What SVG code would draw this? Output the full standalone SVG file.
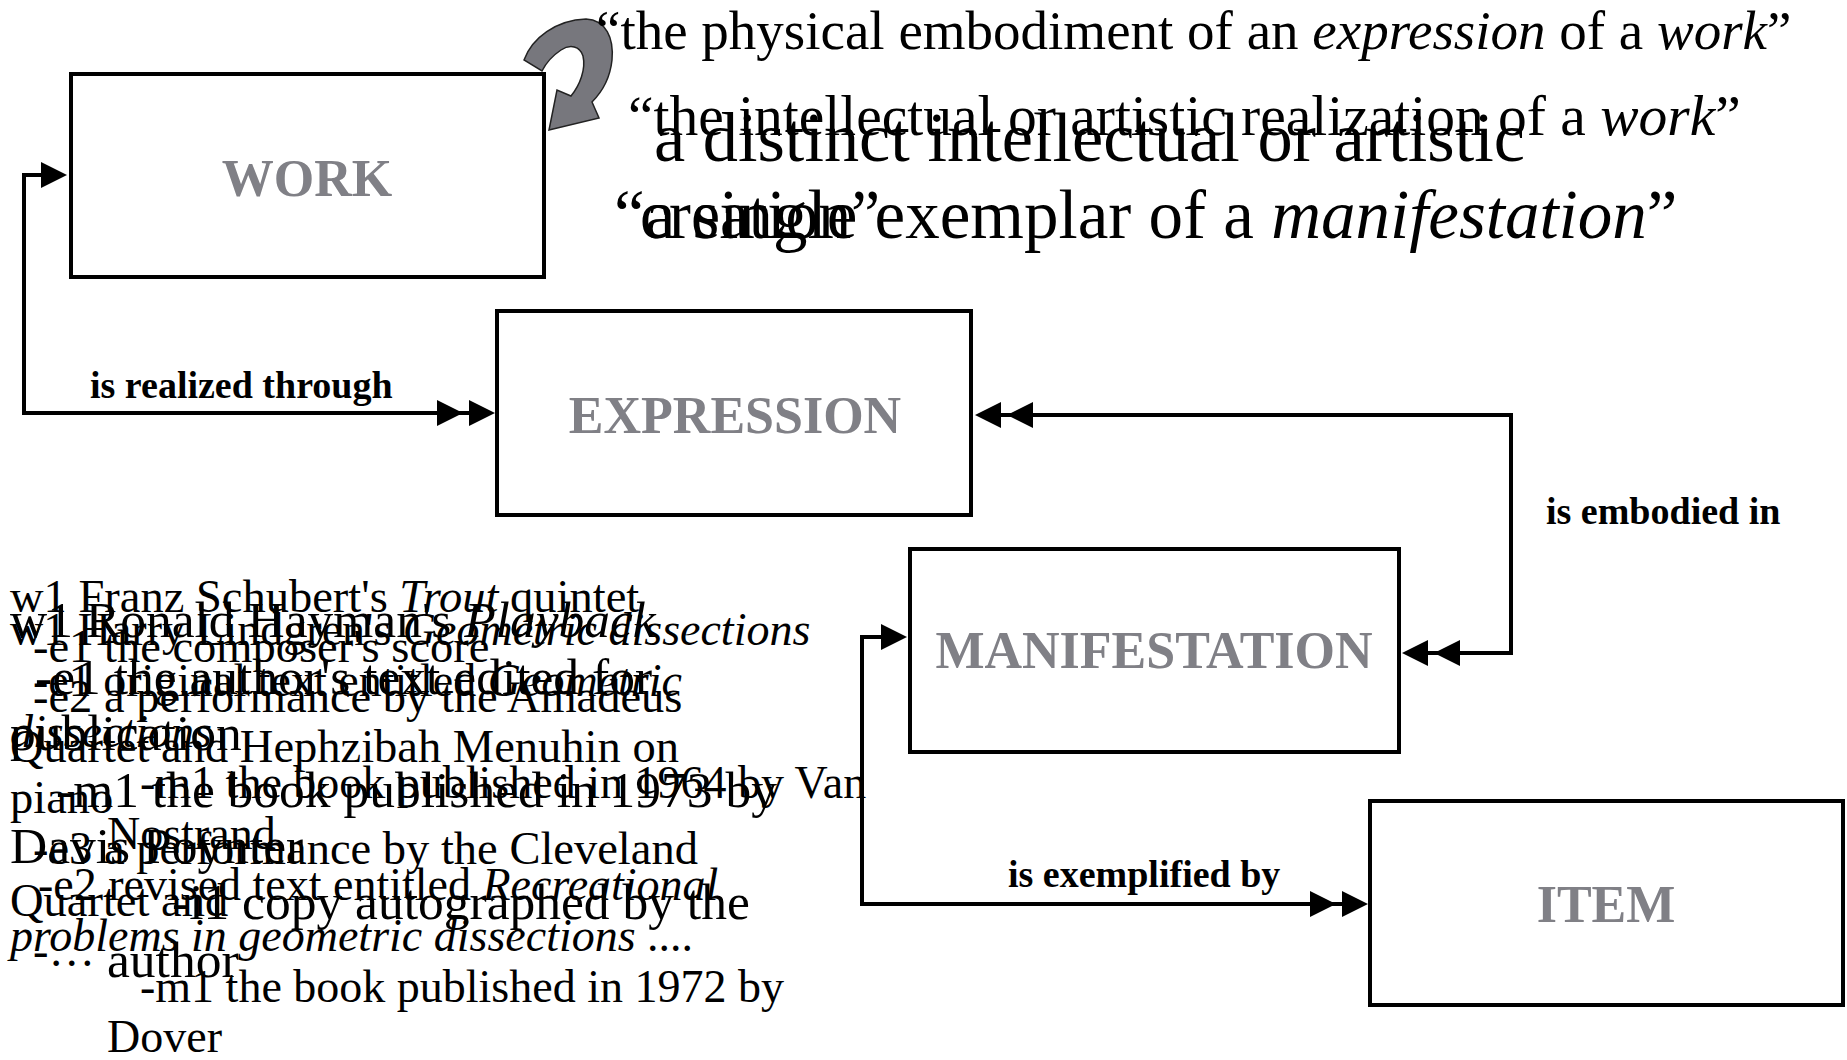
<svg xmlns="http://www.w3.org/2000/svg" width="1847" height="1060" viewBox="0 0 1847 1060">
<style>
.box{fill:#fff;stroke:#000;stroke-width:4}
.lbl{font-family:"Liberation Serif","Times New Roman",serif;font-weight:bold;font-size:52px;fill:#808086;text-anchor:middle}
.conn{fill:none;stroke:#000;stroke-width:4}
.rel{font-family:"Liberation Serif","Times New Roman",serif;font-weight:bold;font-size:38px;fill:#000}
.t{font-family:"Liberation Serif","Times New Roman",serif;fill:#000}
.i{font-style:italic}
</style>
<defs>
<marker id="a1" viewBox="0 0 26 26" refX="20" refY="13" markerWidth="26" markerHeight="26" markerUnits="userSpaceOnUse" orient="auto-start-reverse"><path d="M0,0 L26,13 L0,26 Z" fill="#000"/></marker>
<marker id="a2" viewBox="0 0 58 26" refX="52" refY="13" markerWidth="58" markerHeight="26" markerUnits="userSpaceOnUse" orient="auto-start-reverse"><path d="M32,0 L58,13 L32,26 Z M0,0 L26,13 L0,26 Z" fill="#000"/></marker>
</defs>
<rect width="1847" height="1060" fill="#fff"/>

<g id="node-work">
<rect class="box" x="71" y="74" width="473" height="203"/>
<text class="lbl" x="307" y="196">WORK</text>
</g>
<g id="node-expression">
<rect class="box" x="497" y="311" width="474" height="204"/>
<text class="lbl" x="735" y="433">EXPRESSION</text>
</g>
<g id="node-manifestation">
<rect class="box" x="910" y="549" width="489" height="203"/>
<text class="lbl" x="1154" y="668">MANIFESTATION</text>
</g>
<g id="node-item">
<rect class="box" x="1370" y="801" width="473" height="204"/>
<text class="lbl" x="1606" y="922">ITEM</text>
</g>

<g id="connectors">
<path class="conn" d="M489,413 H24 V175 H61" marker-start="url(#a2)" marker-end="url(#a1)"/>
<text class="rel" x="90" y="398">is realized through</text>
<path class="conn" d="M981,415 H1511 V653 H1408" marker-start="url(#a2)" marker-end="url(#a2)"/>
<text class="rel" x="1546" y="524">is embodied in</text>
<path class="conn" d="M1362,904 H862 V637 H901" marker-start="url(#a2)" marker-end="url(#a1)"/>
<text class="rel" x="1008" y="887">is exemplified by</text>
<path d="M524,60 C532,38 556,20 586,19 C606,20 614,38 612,60 C610,79 602,92 592,102 L599,118 L549,130 L557,90 L571,96 C580,85 586,69 583,56 C580,46 570,44 561,50 C552,56 546,63 542,71 Z" fill="#77777d" stroke="#222" stroke-width="1.5"/>
</g>

<g id="definitions" class="t">
<text x="596" y="49" font-size="55">“the physical embodiment of an <tspan class="i">expression</tspan> of a <tspan class="i">work</tspan>”</text>
<text x="628" y="135" font-size="57.5">“the intellectual or artistic realization of a <tspan class="i">work</tspan>”</text>
<text x="654" y="161" font-size="70" textLength="871" lengthAdjust="spacingAndGlyphs">a distinct intellectual or artistic</text>
<text x="640" y="238" font-size="70" textLength="240" lengthAdjust="spacingAndGlyphs">creation”</text>
<text x="614" y="238" font-size="69">“a single exemplar of a <tspan class="i">manifestation</tspan>”</text>
</g>

<g id="example-schubert" class="t" font-size="46.5">
<text x="10" y="612">w1 Franz Schubert's <tspan class="i">Trout</tspan> quintet</text>
<text x="33" y="662">-e1 the composer's score</text>
<text x="33" y="712">-e2 a performance by the Amadeus</text>
<text x="10" y="762">Quartet and Hephzibah Menuhin on</text>
<text x="10" y="813">piano</text>
<text x="33" y="864">-e3 a performance by the Cleveland</text>
<text x="10" y="916">Quartet and</text>
<text x="33" y="966">-…</text>
</g>

<g id="example-hayman" class="t" font-size="51.5">
<text x="10" y="637">w1 Ronald Hayman's <tspan class="i">Playback</tspan></text>
<text x="35" y="694">-e1 the author's text edited for</text>
<text x="10" y="750">publication</text>
<text x="56" y="807">-m1 the book published in 1973 by</text>
<text x="10" y="863">Davis Poynter</text>
<text x="172" y="919">-i1 copy autographed by the</text>
<text x="107" y="977">author</text>
</g>

<g id="example-lindgren" class="t" font-size="46">
<text x="10" y="645">w1 Harry Lindgren's <tspan class="i">Geometric dissections</tspan></text>
<text x="33" y="696">-e1 original text entitled <tspan class="i">Geometric</tspan></text>
<text x="10" y="747" class="i">dissections</text>
<text x="140" y="798">-m1 the book published in 1964 by Van</text>
<text x="107" y="849">Nostrand</text>
<text x="38" y="900">-e2 revised text entitled <tspan class="i">Recreational</tspan></text>
<text x="10" y="951"><tspan class="i">problems in geometric dissections</tspan> ....</text>
<text x="140" y="1002">-m1 the book published in 1972 by</text>
<text x="107" y="1052">Dover</text>
</g>
</svg>
